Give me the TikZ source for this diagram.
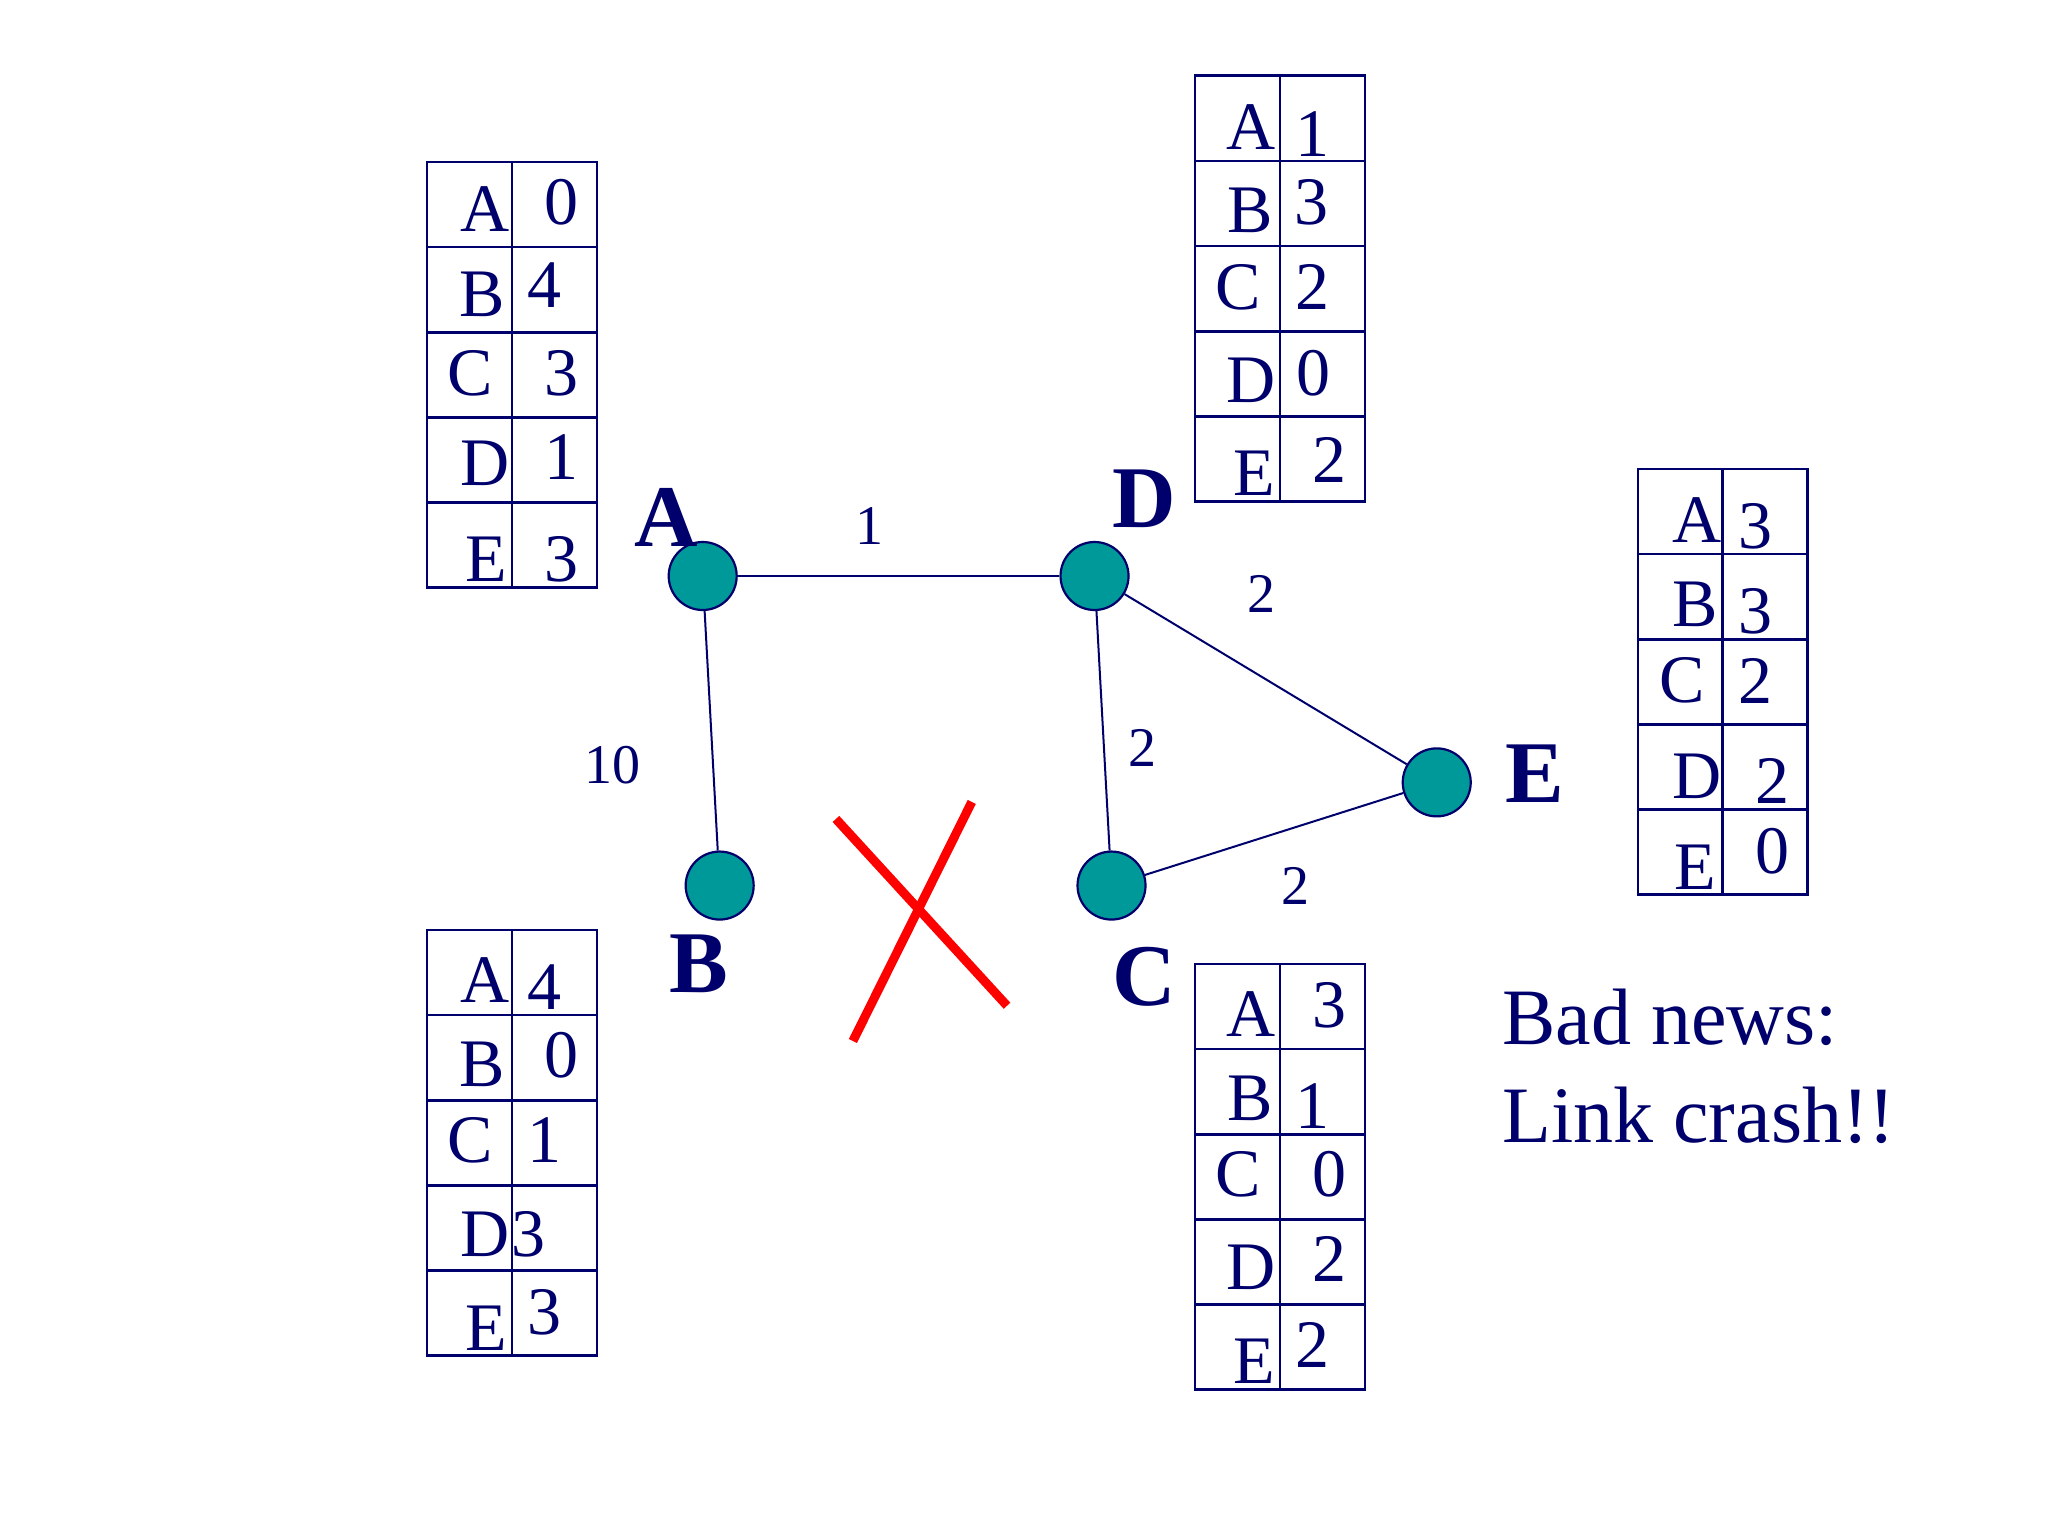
\documentclass[tikz,border=0pt]{standalone}
\usepackage{fontspec}
\setmainfont{Liberation Serif}
\definecolor{navy}{RGB}{0,0,108}
\definecolor{tealc}{RGB}{0,153,153}
\tikzset{
 cellline/.style={draw=navy, line width=2.6pt},
 cell/.style={text=navy, inner sep=0pt, font=\fontsize{68}{80}\selectfont},
 router/.style={circle, fill=tealc, draw=navy, line width=2.2pt, minimum size=68pt, inner sep=0pt},
 rlabel/.style={text=navy, inner sep=0pt, font=\fontsize{88}{100}\selectfont\bfseries},
 wlabel/.style={text=navy, inner sep=0pt, font=\fontsize{56}{66}\selectfont},
 link/.style={draw=navy, line width=2pt},
 cross/.style={draw=red, line width=9pt},
 news/.style={text=navy, inner sep=0pt, anchor=base west, font=\fontsize{80}{98}\selectfont},
}
\newcommand{\rtabgrid}[2]{%
  \draw[cellline] (#1,#2) rectangle ++(130,326);
  \draw[cellline] (#1+65,#2) -- ++(0,326);
  \foreach \k in {1,2,3,4} \draw[cellline] (#1,#2+65.2*\k) -- ++(130,0);
}
\begin{document}
\begin{tikzpicture}[x=1.30612pt, y=-1.30612pt]
\useasboundingbox (0,0) rectangle (1568,1176);
\fill[white] (0,0) rectangle (1568,1176);

% tables
\rtabgrid{327}{124}
\rtabgrid{915}{58}
\rtabgrid{1254}{359}
\rtabgrid{327}{712}
\rtabgrid{915}{738}

% table of A
\node[cell] (ta1) at (371,160) {A}; \node[cell] (ta1v) at (430,155) {0};
\node[cell] (ta2) at (369,225) {B}; \node[cell] (ta2v) at (417,218) {4};
\node[cell] (ta3) at (360,286) {C}; \node[cell] (ta3v) at (430,286) {3};
\node[cell] (ta4) at (371,355) {D}; \node[cell] (ta4v) at (430,350) {1};
\node[cell] (ta5) at (372,428) {E}; \node[cell] (ta5v) at (430,428) {3};

% table of D
\node[cell] (td1) at (958,97) {A};  \node[cell] (td1v) at (1005,103) {1};
\node[cell] (td2) at (957,161) {B}; \node[cell] (td2v) at (1004,155) {3};
\node[cell] (td3) at (948,220) {C}; \node[cell] (td3v) at (1005,220) {2};
\node[cell] (td4) at (958,291) {D}; \node[cell] (td4v) at (1006,286) {0};
\node[cell] (td5) at (960,362) {E}; \node[cell] (td5v) at (1018,352) {2};

% table of E
\node[cell] (te1) at (1299,398) {A}; \node[cell] (te1v) at (1344,403) {3};
\node[cell] (te2) at (1298,463) {B}; \node[cell] (te2v) at (1344,468) {3};
\node[cell] (te3) at (1288,521) {C}; \node[cell] (te3v) at (1344,521) {2};
\node[cell] (te4) at (1299,594) {D}; \node[cell] (te4v) at (1357,598) {2};
\node[cell] (te5) at (1298,664) {E}; \node[cell] (te5v) at (1357,652) {0};

% table of B
\node[cell] (tb1) at (371,750) {A};  \node[cell] (tb1v) at (417,756) {4};
\node[cell] (tb2) at (369,815) {B};  \node[cell] (tb2v) at (430,808) {0};
\node[cell] (tb3) at (360,873) {C};  \node[cell] (tb3v) at (417,873) {1};
\node[cell] (tb4) at (371,945) {D};  \node[cell] (tb4v) at (405,945) {3};
\node[cell] (tb5) at (372,1017) {E}; \node[cell] (tb5v) at (417,1005) {3};

% table of C
\node[cell] (tc1) at (958,776) {A};  \node[cell] (tc1v) at (1018,770) {3};
\node[cell] (tc2) at (957,841) {B};  \node[cell] (tc2v) at (1005,847) {1};
\node[cell] (tc3) at (948,899) {C};  \node[cell] (tc3v) at (1018,899) {0};
\node[cell] (tc4) at (958,970) {D};  \node[cell] (tc4v) at (1018,964) {2};
\node[cell] (tc5) at (960,1042) {E}; \node[cell] (tc5v) at (1005,1030) {2};

% routers
\node[router] (A) at (538,441) {};
\node[router] (D) at (838,441) {};
\node[router] (B) at (551,678) {};
\node[router] (C) at (851,678) {};
\node[router] (E) at (1100,599) {};

% links
\draw[link] (A) -- (D);
\draw[link] (A) -- (B);
\draw[link] (D) -- (C);
\draw[link] (D) -- (E);
\draw[link] (C) -- (E);

% router labels
\node[rlabel] (lA) at (510,396) {A};
\node[rlabel] (lD) at (876,382) {D};
\node[rlabel] (lB) at (535,738) {B};
\node[rlabel] (lC) at (876,748) {C};
\node[rlabel] (lE) at (1175,592) {E};

% weights
\node[wlabel] (wAD) at (666,403) {1};
\node[wlabel] (wDE) at (966,455) {2};
\node[wlabel] (wAB) at (469,586) {10};
\node[wlabel] (wDC) at (875,573) {2};
\node[wlabel] (wCE) at (992,678) {2};

% red cross
\draw[cross] (640,627) -- (771,770);
\draw[cross] (744,614) -- (653,797);

% text
\node[news] (bad1) at (1150,800) {Bad news:};
\node[news] (bad2) at (1150,875) {Link crash!!};
\end{tikzpicture}
\end{document}
